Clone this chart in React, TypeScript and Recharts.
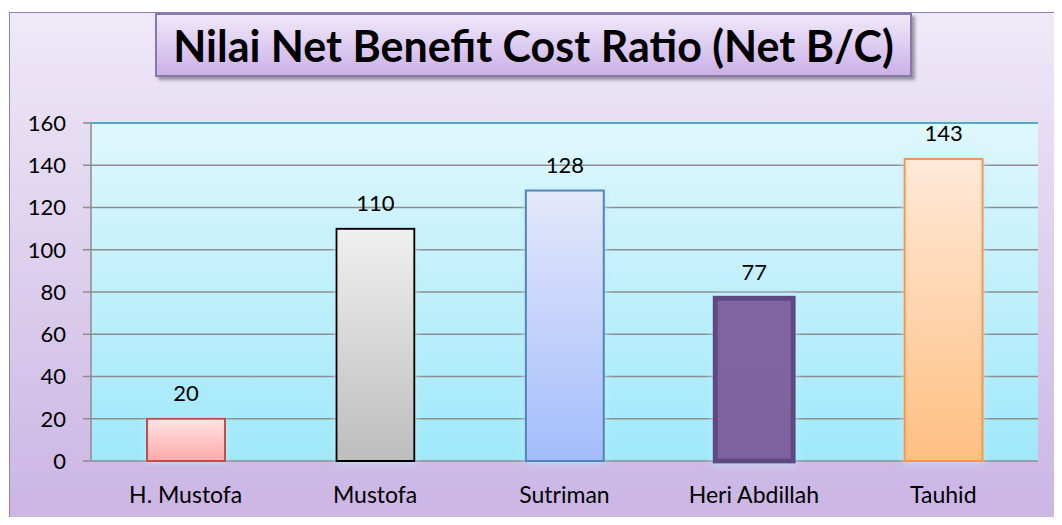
import React from "react";
import {
	BarChart,
	Bar,
	XAxis,
	YAxis,
	CartesianGrid,
	Cell,
	LabelList,
	ReferenceLine,
} from "recharts";

// values
const farmers = ["H. Mustofa", "Mustofa", "Sutriman", "Heri Abdillah", "Tauhid"];
const netBC = [20, 110, 128, 77, 143];
const yTicks = [0, 20, 40, 60, 80, 100, 120, 140, 160];
const slotTicks = [0, 1, 2, 3, 4, 5];

// one look per bar (gradient top, gradient bottom, border)
const barLooks = [
	{ top: "#ffe4e4", bottom: "#ffa9a9", stroke: "#c0504d", width: 2 },
	{ top: "#f0f0f0", bottom: "#bdbdbd", stroke: "#000000", width: 2 },
	{ top: "#e4e8fb", bottom: "#a3bdfb", stroke: "#4f81bd", width: 2 },
	{ top: "#8064a2", bottom: "#7f62a0", stroke: "#5e4883", width: 5 },
	{ top: "#ffe9d9", bottom: "#ffbf82", stroke: "#f79646", width: 2 },
];

const grid = "#8c8c8c";
const font = "Lato, 'Open Sans', sans-serif";

const chartData = farmers.map((name, i) => ({ name, value: netBC[i] }));

export default function App() {
	return (
		<div
			style={{
				position: "relative",
				width: 1062,
				height: 525,
				margin: -8,
				overflow: "hidden",
				background: "#ffffff",
			}}
		>
			<div
				style={{
					position: "absolute",
					left: 0,
					top: 0,
					width: 920,
					height: 5,
					background: "#d7d7d7",
				}}
			/>
			<div
				style={{
					position: "absolute",
					left: 9,
					top: 12,
					width: 1070,
					height: 530,
					boxSizing: "border-box",
					border: "1.5px solid #8e80ae",
					background: "linear-gradient(to bottom, #efe9f7, #c9b3e3)",
				}}
			/>
			<div
				style={{
					position: "absolute",
					left: 155,
					top: 13,
					width: 757,
					height: 64,
					boxSizing: "border-box",
					border: "2px solid #8878a8",
					background: "linear-gradient(to bottom, #f0e8fa, #cbb1e7)",
					boxShadow: "3px 3px 3px rgba(0,0,0,0.35)",
					display: "flex",
					alignItems: "center",
					justifyContent: "center",
					fontFamily: font,
					fontWeight: 700,
					fontSize: 43,
					color: "#000",
					whiteSpace: "nowrap",
				}}
			>
				Nilai Net Benefit Cost Ratio (Net B/C)
			</div>
			<div style={{ position: "absolute", left: 0, top: 0 }}>
				<BarChart
					width={1062}
					height={525}
					data={chartData}
					margin={{ top: 123, right: 24, bottom: 0, left: 0 }}
				>
					<defs>
						<linearGradient id="plotBg" x1="0" y1="0" x2="0" y2="1">
							<stop offset="0%" stopColor="#e0f7fd" />
							<stop offset="100%" stopColor="#9fe8fa" />
						</linearGradient>
						{barLooks.map((b, i) => (
							<linearGradient key={i} id={`bar${i}`} x1="0" y1="0" x2="0" y2="1">
								<stop offset="0%" stopColor={b.top} />
								<stop offset="100%" stopColor={b.bottom} />
							</linearGradient>
						))}
						<filter id="haze" x="-30%" y="-10%" width="160%" height="120%">
							<feDropShadow dx="0" dy="0" stdDeviation="4" floodColor="#bdeffb" floodOpacity="0.9" />
						</filter>
					</defs>
					<CartesianGrid
						vertical={false}
						stroke={grid}
						strokeWidth={1.5}
						fill="url(#plotBg)"
						fillOpacity={1}
					/>
					<XAxis
						xAxisId="slots"
						type="number"
						domain={[0, 5]}
						ticks={slotTicks}
						allowDataOverflow
						height={0}
						tick={false}
						tickSize={9}
						axisLine={{ stroke: grid, strokeWidth: 1.5 }}
						tickLine={{ stroke: grid, strokeWidth: 1.5 }}
					/>
					<XAxis
						dataKey="name"
						height={64}
						interval={0}
						axisLine={false}
						tickLine={false}
						tickSize={0}
						tickMargin={26}
						tick={{ fill: "#000", fontSize: 23, fontFamily: font }}
					/>
					<YAxis
						width={91}
						domain={[0, 160]}
						ticks={yTicks}
						interval={0}
						tickSize={8}
						tickMargin={17}
						axisLine={{ stroke: grid, strokeWidth: 1.5 }}
						tickLine={{ stroke: grid, strokeWidth: 1.5 }}
						tick={{ fill: "#000", fontSize: 22, fontFamily: font }}
					/>
					<YAxis
						yAxisId="r"
						orientation="right"
						width={0}
						domain={[0, 160]}
						tick={false}
						tickLine={false}
						axisLine={{ stroke: "#4bacc6", strokeWidth: 2 }}
					/>
					<ReferenceLine y={160} stroke="#4bacc6" strokeWidth={2} />
					<Bar dataKey="value" barSize={78} isAnimationActive={false}>
						{chartData.map((d, i) => (
							<Cell
								key={d.name}
								fill={`url(#bar${i})`}
								stroke={barLooks[i].stroke}
								strokeWidth={barLooks[i].width}
								filter="url(#haze)"
							/>
						))}
						<LabelList
							dataKey="value"
							position="top"
							offset={18}
							fill="#000"
							fontSize={22}
							fontFamily={font}
						/>
					</Bar>
				</BarChart>
			</div>
		</div>
	);
}
